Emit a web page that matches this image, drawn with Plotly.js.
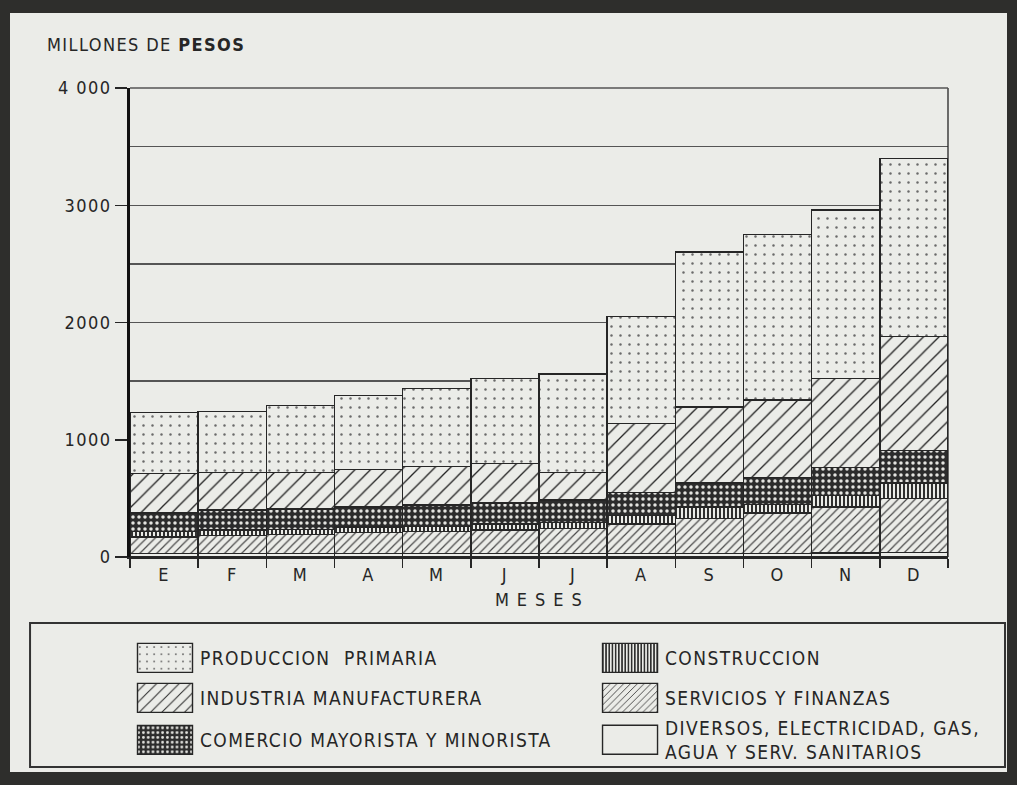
<!DOCTYPE html>
<html><head><meta charset="utf-8">
<script src="https://cdn.plot.ly/plotly-3.0.1.min.js"></script>
<style>
html,body{margin:0;padding:0;background:#2e2e2c;width:1017px;height:785px;overflow:hidden}
#chart{position:absolute;left:10px;top:13px;width:997px;height:759px}
text{letter-spacing:1.4px}
</style></head><body><div id="chart"></div>
<script>
// ---- data (millones de pesos) ----
const months = ['E','F','M','A','M','J','J','A','S','O','N','D'];
const diversos =     [30,30,30,30,30,30,30,30,30,30,35,40];
const servicios =    [140,155,160,180,185,200,215,250,300,345,390,460];
const construccion = [45,45,45,45,45,50,50,75,95,75,100,130];
const comercio =     [160,170,175,170,185,180,190,195,205,230,240,280];
const industria =    [335,320,310,320,325,335,235,590,650,660,755,970];
const produccion =   [520,520,570,635,665,725,840,910,1320,1410,1440,1520];
const yTickVals = [0,1000,2000,3000,4000];
const yTickText = ['0','1000','2000','3000','4 000'];
const names = {
  produccion:'PRODUCCION  PRIMARIA',
  industria:'INDUSTRIA MANUFACTURERA',
  comercio:'COMERCIO MAYORISTA Y MINORISTA',
  construccion:'CONSTRUCCION',
  servicios:'SERVICIOS Y FINANZAS',
  diversos:'DIVERSOS, ELECTRICIDAD, GAS,<br>AGUA Y SERV. SANITARIOS'
};

const PAPER = '#ebece8';
const INK = '#262626';
const FONT = 'Liberation Sans Narrow, DejaVu Sans Condensed, Arial Narrow, sans-serif';
const xIdx = months.map((m,i)=>i);

function bar(y, name, legendId, pattern, color){
  const t = {type:'bar', x:xIdx, y:y, name:name, legend:legendId,
    marker:{color:color||PAPER, line:{color:INK, width:1.4}}, hoverinfo:'skip'};
  if(pattern) t.marker.pattern = pattern;
  return t;
}

const data = [
  bar(diversos, names.diversos, 'legend6', null, PAPER),
  bar(servicios, names.servicios, 'legend4', {shape:'/', bgcolor:PAPER, fgcolor:'#4a4a4a', size:6, solidity:0.2}),
  bar(construccion, names.construccion, 'legend2', {shape:'|', bgcolor:PAPER, fgcolor:'#1a1a1a', size:4, solidity:0.45}),
  bar(comercio, names.comercio, 'legend5', {shape:'.', bgcolor:'#2c2c2c', fgcolor:'#e4e4e0', size:6, solidity:0.27}),
  bar(industria, names.industria, 'legend3', {shape:'/', bgcolor:PAPER, fgcolor:'#222', size:11, solidity:0.12}),
  bar(produccion, names.produccion, 'legend', {shape:'.', bgcolor:PAPER, fgcolor:'#6a6a6a', size:9, solidity:0.06})
];

function lg(x,y){
  return {x:x, y:y, xanchor:'left', yanchor:'middle', bgcolor:'rgba(0,0,0,0)',
    borderwidth:0, itemwidth:60, font:{family:FONT, size:19, color:INK},
    itemclick:false, itemdoubleclick:false, traceorder:'normal'};
}

const layout = {
  width:997, height:759,
  margin:{l:120, r:59, t:75, b:215, autoexpand:false},
  paper_bgcolor:PAPER, plot_bgcolor:PAPER,
  barmode:'stack', bargap:0,
  font:{family:FONT, color:INK, size:19},
  showlegend:true,
  legend: lg(0, -0.2154),
  legend2: lg(0.5685, -0.2154),
  legend3: lg(0, -0.3006),
  legend4: lg(0.5685, -0.3006),
  legend5: lg(0, -0.3902),
  legend6: lg(0.5685, -0.3902),
  xaxis:{range:[-0.5,11.5], tickmode:'array', tickvals:xIdx, ticktext:months,
    ticks:'', showgrid:false, zeroline:false, showline:true, linecolor:INK, linewidth:2,
    minor:{tickmode:'linear', tick0:0.5, dtick:1, ticks:'outside', ticklen:9, tickwidth:1.5, tickcolor:INK, showgrid:false},
    ticklabelstandoff:0,
    tickfont:{size:18, color:INK},
    title:{text:'M E S E S', font:{size:18, color:INK}, standoff:10}},
  yaxis:{range:[0,4000], tickmode:'array', tickvals:yTickVals, ticktext:yTickText,
    ticks:'outside', ticklen:12, tickwidth:1.5, tickcolor:INK,
    showline:true, linewidth:3, linecolor:'#111',
    showgrid:true, gridcolor:'#555', gridwidth:1.3, zeroline:false,
    minor:{tickmode:'linear', tick0:0, dtick:500, showgrid:true, gridcolor:'#555', gridwidth:1.3, ticks:''},
    tickfont:{size:18, color:INK}},
  annotations:[{xref:'paper', yref:'paper', x:-0.104, y:1.092, xanchor:'left', yanchor:'middle',
    text:'MILLONES DE <b>PESOS</b>', showarrow:false, font:{size:18, color:INK}}],
  shapes:[
    {type:'line', xref:'paper', yref:'paper', x0:1, x1:1, y0:0, y1:1, line:{color:INK, width:1.3}},
    {type:'line', xref:'paper', yref:'paper', x0:0, x1:1, y0:1, y1:1, line:{color:'#555', width:1.3}},
    {type:'rect', xref:'paper', yref:'paper', x0:-0.1222, x1:1.0697, y0:-0.4478, y1:-0.1407, line:{color:'#333', width:2}}
  ]
};

Plotly.newPlot('chart', data, layout, {staticPlot:true, displayModeBar:false}).then(function(gd){
  gd.querySelectorAll('.legendpoints path').forEach(function(p){
    p.setAttribute('d','M27.5,14.5H-27.5V-14.5H27.5Z');
  });
});
</script></body></html>
